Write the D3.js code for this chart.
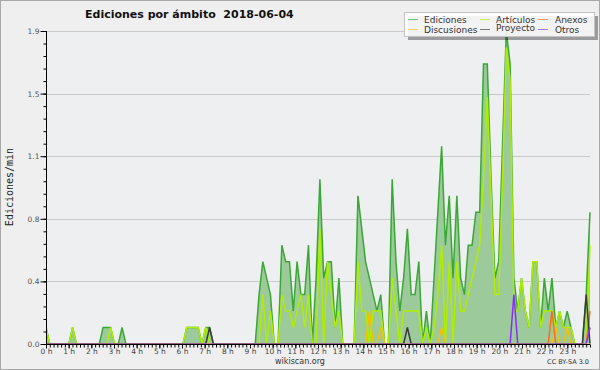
<!DOCTYPE html>
<html lang="es">
<head>
  <meta charset="utf-8">
  <title>Ediciones por ámbito</title>
  <script src="https://d3js.org/d3.v7.min.js"></script>
  <style>
    body { margin: 0; }
    svg { display: block; font-family: "DejaVu Sans", sans-serif; }
    .title { font-size: 11px; font-weight: bold; fill: #111; }
    .ylabel { font-family: "DejaVu Sans Mono", monospace; font-size: 10px; fill: #222; text-anchor: middle; }
    .legend text { font-size: 9px; fill: #333; }
    .foot { font-size: 8px; fill: #333; }
  </style>
</head>

<body>
  <div id="chart"></div>
  <script>
    var w = 600;
    var h = 370;

    // horas del eje x
    var horas = ['0 h', '1 h', '2 h', '3 h', '4 h', '5 h', '6 h', '7 h', '8 h', '9 h', '10 h', '11 h',
      '12 h', '13 h', '14 h', '15 h', '16 h', '17 h', '18 h', '19 h', '20 h', '21 h', '22 h', '23 h'];
    var yTicks = [0, 0.38, 0.76, 1.14, 1.52, 1.9];

    // ediciones/min cada 10 minutos (144 puntos)
    var ediciones = [
      0.1, 0, 0, 0, 0, 0, 0, 0.1, 0, 0, 0, 0,
      0, 0, 0, 0.1, 0.1, 0.1, 0, 0, 0.1, 0, 0, 0,
      0, 0, 0, 0, 0, 0, 0, 0, 0, 0, 0, 0,
      0, 0.1, 0.1, 0.1, 0.1, 0, 0.1, 0.1, 0, 0, 0, 0,
      0, 0, 0, 0, 0, 0, 0, 0, 0.3, 0.5, 0.4, 0.3,
      0, 0, 0.6, 0.5, 0.5, 0.2, 0.5, 0.3, 0.3, 0.6, 0, 0.4,
      1.0, 0.4, 0.5, 0.5, 0.1, 0.4, 0, 0, 0, 0, 0.9, 0.7,
      0.5, 0.4, 0.3, 0.2, 0.3, 0, 0, 1.0, 0.5, 0.2, 0.4, 0.7,
      0.3, 0.3, 0.5, 0, 0.2, 0, 0.4, 0.8, 1.2, 0.6, 0.9, 0.4,
      0.9, 0.4, 0.3, 0.6, 0.6, 0.8, 0.8, 1.7, 1.7, 1.0, 0.4, 0.5,
      1.2, 1.9, 1.7, 0.4, 0.2, 0.4, 0.2, 0.1, 0.5, 0.5, 0.1, 0.4,
      0.2, 0.4, 0.1, 0.2, 0.1, 0.2, 0.1, 0, 0, 0, 0.3, 0.8
    ];
    var articulos = [
      0.1, 0, 0, 0, 0, 0, 0, 0.1, 0, 0, 0, 0,
      0, 0, 0, 0, 0, 0.1, 0, 0, 0, 0, 0, 0,
      0, 0, 0, 0, 0, 0, 0, 0, 0, 0, 0, 0,
      0, 0.1, 0.1, 0.1, 0.1, 0, 0.1, 0, 0, 0, 0, 0,
      0, 0, 0, 0, 0, 0, 0, 0, 0, 0.3, 0, 0.2,
      0, 0, 0.3, 0.2, 0.2, 0.1, 0.2, 0.3, 0.1, 0.3, 0, 0,
      0.7, 0, 0.5, 0.3, 0.1, 0.2, 0, 0, 0, 0, 0.5, 0.2,
      0.2, 0, 0.2, 0.2, 0.2, 0, 0, 0.4, 0.2, 0, 0.2, 0.2,
      0.2, 0.2, 0.2, 0, 0.1, 0, 0.1, 0.3, 0.6, 0, 0.5, 0,
      0.5, 0.2, 0.2, 0.3, 0.4, 0.5, 0.6, 1.0, 1.5, 0.9, 0.3, 0.3,
      1.0, 1.8, 1.6, 0.2, 0.2, 0.4, 0.2, 0.1, 0.5, 0.5, 0.1, 0.2,
      0.2, 0.2, 0.1, 0.2, 0.1, 0.1, 0.1, 0, 0, 0, 0, 0.6
    ];
    var discusiones = [
      0, 0, 0, 0, 0, 0, 0, 0, 0, 0, 0, 0,
      0, 0, 0, 0, 0, 0, 0, 0, 0, 0, 0, 0,
      0, 0, 0, 0, 0, 0, 0, 0, 0, 0, 0, 0,
      0, 0, 0, 0, 0, 0, 0, 0, 0, 0, 0, 0,
      0, 0, 0, 0, 0, 0, 0, 0, 0, 0, 0, 0,
      0, 0, 0, 0, 0, 0, 0, 0, 0, 0, 0, 0,
      0, 0, 0, 0, 0, 0, 0, 0, 0, 0, 0, 0,
      0, 0.2, 0, 0, 0.1, 0, 0, 0, 0, 0, 0, 0,
      0, 0, 0, 0, 0, 0, 0, 0, 0.1, 0, 0, 0,
      0, 0, 0, 0, 0, 0, 0, 0, 0, 0, 0, 0,
      0, 0, 0, 0, 0, 0, 0, 0, 0, 0, 0, 0,
      0, 0, 0.1, 0, 0, 0.1, 0, 0, 0, 0, 0, 0
    ];
    var anexos = [
      0, 0, 0, 0, 0, 0, 0, 0, 0, 0, 0, 0,
      0, 0, 0, 0, 0, 0, 0, 0, 0, 0, 0, 0,
      0, 0, 0, 0, 0, 0, 0, 0, 0, 0, 0, 0,
      0, 0, 0, 0, 0, 0, 0, 0, 0, 0, 0, 0,
      0, 0, 0, 0, 0, 0, 0, 0, 0, 0, 0, 0,
      0, 0, 0, 0, 0, 0, 0, 0, 0, 0, 0, 0,
      0, 0, 0, 0, 0, 0, 0, 0, 0, 0, 0, 0,
      0, 0, 0, 0, 0, 0, 0, 0, 0, 0, 0, 0,
      0, 0, 0, 0, 0, 0, 0, 0, 0, 0, 0, 0,
      0, 0, 0, 0, 0, 0, 0, 0, 0, 0, 0, 0,
      0, 0, 0, 0, 0, 0, 0, 0, 0, 0, 0, 0,
      0, 0.2, 0, 0, 0, 0, 0, 0, 0, 0, 0, 0.2
    ];
    var proyecto = [
      0, 0, 0, 0, 0, 0, 0, 0, 0, 0, 0, 0,
      0, 0, 0, 0, 0, 0, 0, 0, 0, 0, 0, 0,
      0, 0, 0, 0, 0, 0, 0, 0, 0, 0, 0, 0,
      0, 0, 0, 0, 0, 0, 0, 0.1, 0, 0, 0, 0,
      0, 0, 0, 0, 0, 0, 0, 0, 0, 0, 0, 0,
      0, 0, 0, 0, 0, 0, 0, 0, 0, 0, 0, 0,
      0, 0, 0, 0, 0, 0, 0, 0, 0, 0, 0, 0,
      0, 0, 0, 0, 0, 0, 0, 0, 0, 0, 0, 0.1,
      0, 0, 0, 0, 0, 0, 0, 0, 0, 0, 0, 0,
      0, 0, 0, 0, 0, 0, 0, 0, 0, 0, 0, 0,
      0, 0, 0, 0, 0, 0, 0, 0, 0, 0, 0, 0,
      0, 0, 0, 0, 0, 0, 0, 0, 0, 0, 0.3, 0
    ];
    var otros = [
      0, 0, 0, 0, 0, 0, 0, 0, 0, 0, 0, 0,
      0, 0, 0, 0, 0, 0, 0, 0, 0, 0, 0, 0,
      0, 0, 0, 0, 0, 0, 0, 0, 0, 0, 0, 0,
      0, 0, 0, 0, 0, 0, 0, 0, 0, 0, 0, 0,
      0, 0, 0, 0, 0, 0, 0, 0, 0, 0, 0, 0,
      0, 0, 0, 0, 0, 0, 0, 0, 0, 0, 0, 0,
      0, 0, 0, 0, 0, 0, 0, 0, 0, 0, 0, 0,
      0, 0, 0, 0, 0, 0, 0, 0, 0, 0, 0, 0,
      0, 0, 0, 0, 0, 0, 0, 0, 0, 0, 0, 0,
      0, 0, 0, 0, 0, 0, 0, 0, 0, 0, 0, 0,
      0, 0, 0, 0.3, 0, 0, 0, 0, 0, 0, 0, 0,
      0, 0, 0, 0, 0, 0, 0, 0, 0, 0, 0, 0.1
    ];

    var series = [
      {name: 'Ediciones', values: ediciones, color: '#3aa835'},
      {name: 'Artículos', values: articulos, color: '#afee00'},
      {name: 'Anexos', values: anexos, color: '#ff6a1a'},
      {name: 'Discusiones', values: discusiones, color: '#f4c200'},
      {name: 'Proyecto', values: proyecto, color: '#3a3a3a'},
      {name: 'Otros', values: otros, color: '#8a2cff'}
    ];

    var pLeft = 46, pRight = 590, pTop = 31, pBottom = 344;

    var xh = d3.scaleLinear().domain([0, 24]).range([pLeft, pRight]);
    var x = d3.scaleLinear().domain([0, ediciones.length - 1]).range([pLeft, pRight]);
    var y = d3.scaleLinear().domain([0, 1.9]).range([pBottom, pTop]);

    var svg = d3.select('#chart').append('svg')
      .attr('width', w)
      .attr('height', h);

    svg.append('rect')
      .attr('x', 0.5).attr('y', 0.5)
      .attr('width', w - 1).attr('height', h - 1)
      .attr('fill', '#efefef')
      .attr('stroke', '#a9a9a9');

    svg.append('rect')
      .attr('x', pLeft).attr('y', pTop)
      .attr('width', pRight - pLeft).attr('height', pBottom - pTop)
      .attr('fill', '#eeeff1');

    // lineas de la rejilla
    svg.append('g').selectAll('line')
      .data(yTicks.slice(1))
      .enter().append('line')
      .attr('x1', pLeft).attr('x2', pRight)
      .attr('y1', function(d) { return Math.round(y(d)) + 0.5; })
      .attr('y2', function(d) { return Math.round(y(d)) + 0.5; })
      .attr('stroke', '#c9c9c9');

    svg.append('clipPath').attr('id', 'clip')
      .append('rect')
      .attr('x', pLeft).attr('y', 0)
      .attr('width', pRight - pLeft + 2).attr('height', pBottom - 0.6);

    var plot = svg.append('g').attr('clip-path', 'url(#clip)');

    var area = d3.area()
      .x(function(d, i) { return x(i); })
      .y0(y(0))
      .y1(function(d) { return y(d); });
    var line = d3.line()
      .x(function(d, i) { return x(i); })
      .y(function(d) { return y(d); });

    plot.append('path')
      .datum(ediciones)
      .attr('d', area)
      .attr('fill', '#9dca9b');

    var order = [0, 1, 3, 2, 4, 5];
    plot.selectAll('path.serie')
      .data(order.map(function(k) { return series[k]; }))
      .enter().append('path')
      .attr('class', 'serie')
      .attr('d', function(d) { return line(d.values); })
      .attr('fill', 'none')
      .attr('stroke', function(d) { return d.color; })
      .attr('stroke-width', 1.5)
      .attr('stroke-linejoin', 'miter');

    // ejes
    var yMinor = d3.range(26).map(function(k) { return 1.9 * k / 25; });
    svg.append('g')
      .attr('transform', 'translate(' + (pLeft + 0.5) + ',0)')
      .call(d3.axisLeft(y).tickValues(yMinor).tickSize(3).tickFormat(''))
      .call(function(g) { g.select('.domain').remove(); });

    var yAxis = svg.append('g')
      .attr('transform', 'translate(' + (pLeft + 0.5) + ',0)')
      .call(d3.axisLeft(y).tickValues(yTicks).tickFormat(d3.format('.1f')).tickSize(6).tickSizeOuter(0).tickPadding(1));
    yAxis.attr('color', '#000');
    yAxis.select('.domain').remove();
    yAxis.selectAll('text').attr('font-size', 7.5).attr('font-family', 'DejaVu Sans').attr('fill', '#555');

    var xMinor = d3.range(0, 24.01, 1 / 6);
    svg.append('g')
      .attr('transform', 'translate(0,' + (pBottom + 0.5) + ')')
      .call(d3.axisBottom(xh).tickValues(xMinor).tickSize(3).tickFormat(''))
      .call(function(g) { g.select('.domain').remove(); });

    var xAxis = svg.append('g')
      .attr('transform', 'translate(0,' + (pBottom + 0.5) + ')')
      .call(d3.axisBottom(xh)
        .tickValues(d3.range(horas.length))
        .tickFormat(function(d) { return horas[d]; })
        .tickSize(4).tickSizeOuter(0).tickPadding(0));
    xAxis.attr('color', '#000');
    xAxis.select('.domain').remove();
    xAxis.selectAll('text').attr('font-size', 7.5).attr('font-family', 'DejaVu Sans').attr('fill', '#444');

    svg.append('line')
      .attr('x1', pLeft + 0.5).attr('x2', pLeft + 0.5)
      .attr('y1', pTop).attr('y2', pBottom + 1)
      .attr('stroke', '#000');
    svg.append('line')
      .attr('x1', pLeft).attr('x2', pRight)
      .attr('y1', pBottom + 0.5).attr('y2', pBottom + 0.5)
      .attr('stroke', '#000');

    // leyenda
    var lg = svg.append('g').attr('class', 'legend');
    lg.append('rect')
      .attr('x', 408).attr('y', 16).attr('width', 190).attr('height', 24)
      .attr('fill', 'rgba(0,0,0,0.35)');
    lg.append('rect')
      .attr('x', 404.5).attr('y', 12.5).attr('width', 190).attr('height', 24)
      .attr('fill', 'rgba(255,255,255,0.88)')
      .attr('stroke', '#c4c4c4');

    var legendPos = [
      {k: 0, sx: 408, tx: 424, sy: 19.5, ty: 22.5},
      {k: 1, sx: 480, tx: 496, sy: 19.5, ty: 22.5},
      {k: 2, sx: 538, tx: 555, sy: 19.5, ty: 22.5},
      {k: 3, sx: 408, tx: 424, sy: 29.5, ty: 32.5},
      {k: 4, sx: 480, tx: 496, sy: 29.5, ty: 31},
      {k: 5, sx: 538, tx: 555, sy: 29.5, ty: 32.5}
    ];
    var item = lg.selectAll('g.item')
      .data(legendPos)
      .enter().append('g').attr('class', 'item');
    item.append('line')
      .attr('x1', function(d) { return d.sx; })
      .attr('x2', function(d) { return d.sx + 10; })
      .attr('y1', function(d) { return d.sy; })
      .attr('y2', function(d) { return d.sy; })
      .attr('stroke', function(d) { return series[d.k].color; })
      .attr('stroke-opacity', 0.65);
    item.append('text')
      .attr('x', function(d) { return d.tx; })
      .attr('y', function(d) { return d.ty; })
      .text(function(d) { return series[d.k].name; });

    // titulos
    svg.append('text').attr('class', 'title')
      .attr('x', 85).attr('y', 18)
      .attr('xml:space', 'preserve')
      .text('Ediciones por ámbito  2018-06-04');

    svg.append('text').attr('class', 'ylabel')
      .attr('transform', 'translate(13,187) rotate(-90)')
      .text('Ediciones/min');

    svg.append('text').attr('class', 'foot')
      .attr('x', 300).attr('y', 364).attr('text-anchor', 'middle')
      .text('wikiscan.org');
    svg.append('text').attr('class', 'foot')
      .attr('x', 589).attr('y', 364).attr('text-anchor', 'end')
      .style('font-size', '6.5px')
      .text('CC BY-SA 3.0');
  </script>
</body>

</html>
